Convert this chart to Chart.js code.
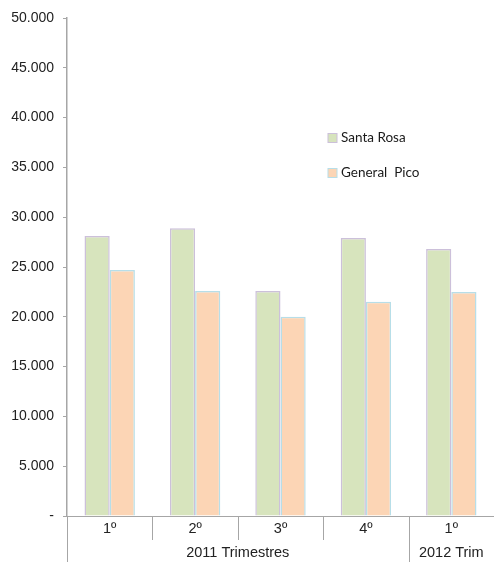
<!DOCTYPE html>
<html>
<head>
<meta charset="utf-8">
<script src="https://cdn.jsdelivr.net/npm/chart.js@4"></script>
<style>
  html, body { margin: 0; padding: 0; background: #fff; }
  #wrap { width: 494px; height: 562px; }
</style>
</head>
<body>
<div id="wrap"><canvas id="chart" width="494" height="562"></canvas></div>
<script>
const quarters = ['1º', '2º', '3º', '4º', '1º'];
const groups = [
  { label: '2011 Trimestres', from: 0, to: 3 },
  { label: '2012 Trim', from: 4, to: 4 }
];
const santaRosa = [28100, 28900, 22600, 27900, 26800];
const generalPico = [24700, 22600, 20000, 21500, 22500];

const axisGray = '#a6a6a6';

// legend placed inside the plot, plus the two-row category axis
const extrasPlugin = {
  id: 'extras',
  afterDraw(chart) {
    const ctx = chart.ctx;
    const x = chart.scales.x;
    const area = chart.chartArea;
    const bottom = area.bottom;
    const half = (x.getPixelForValue(1) - x.getPixelForValue(0)) / 2;
    ctx.save();

    // legend
    ctx.font = '13.5px Lato, "Liberation Sans", sans-serif';
    ctx.textBaseline = 'middle';
    ctx.textAlign = 'left';
    chart.data.datasets.forEach((ds, i) => {
      const ly = 138 + i * 35;
      ctx.fillStyle = ds.backgroundColor;
      ctx.fillRect(328, ly - 4.5, 9, 9);
      ctx.strokeStyle = ds.borderColor;
      ctx.lineWidth = 1;
      ctx.strokeRect(328, ly - 4.5, 9, 9);
      ctx.fillStyle = '#1a1a1a';
      ctx.fillText(ds.label, 341, ly);
    });

    // quarter labels and short separators
    ctx.strokeStyle = axisGray;
    ctx.lineWidth = 1;
    ctx.font = '14.5px "Liberation Sans", Arial, sans-serif';
    ctx.textAlign = 'center';
    ctx.fillStyle = '#222';
    quarters.forEach((q, i) => {
      const cx = x.getPixelForValue(i);
      ctx.fillText(q, cx, bottom + 13);
      if (i > 0) {
        const sx = Math.round(cx - half) + 0.5;
        ctx.beginPath();
        ctx.moveTo(sx, bottom);
        ctx.lineTo(sx, bottom + 24);
        ctx.stroke();
      }
    });

    // group labels and long separators
    groups.forEach(g => {
      const l = x.getPixelForValue(g.from) - half;
      const r = x.getPixelForValue(g.to) + half;
      ctx.fillText(g.label, (l + r) / 2, bottom + 37);
      const sx = Math.round(l) + 0.5;
      ctx.beginPath();
      ctx.moveTo(sx, bottom);
      ctx.lineTo(sx, chart.height);
      ctx.stroke();
    });
    ctx.restore();
  }
};

new Chart(document.getElementById('chart').getContext('2d'), {
  type: 'bar',
  data: {
    labels: quarters,
    datasets: [
      {
        label: 'Santa Rosa',
        data: santaRosa,
        backgroundColor: '#d7e4bd',
        borderColor: '#ccc0da',
        borderWidth: 1.5
      },
      {
        label: 'General  Pico',
        data: generalPico,
        backgroundColor: '#fcd5b5',
        borderColor: '#b7dee8',
        borderWidth: 1.5
      }
    ]
  },
  options: {
    responsive: false,
    animation: false,
    layout: { padding: { top: 18, right: 0, left: 0, bottom: 0 } },
    plugins: {
      legend: { display: false },
      tooltip: { enabled: false }
    },
    datasets: {
      bar: { categoryPercentage: 0.59, barPercentage: 1.0 }
    },
    scales: {
      x: {
        ticks: { display: false },
        grid: { display: false },
        border: { display: true, color: axisGray, width: 1 },
        afterFit(scale) { scale.height = 46; }
      },
      y: {
        min: 0,
        max: 50000,
        ticks: {
          stepSize: 5000,
          color: '#222',
          padding: 9,
          font: { family: '"Liberation Sans", Arial, sans-serif', size: 14 },
          callback: v => v === 0 ? '-' : v.toLocaleString('de-DE')
        },
        grid: {
          drawOnChartArea: false,
          drawTicks: true,
          tickLength: 4,
          color: axisGray
        },
        border: { display: true, color: axisGray, width: 1.5 },
        afterFit(scale) { scale.width = 67; }
      }
    }
  },
  plugins: [extrasPlugin]
});
</script>
</body>
</html>
